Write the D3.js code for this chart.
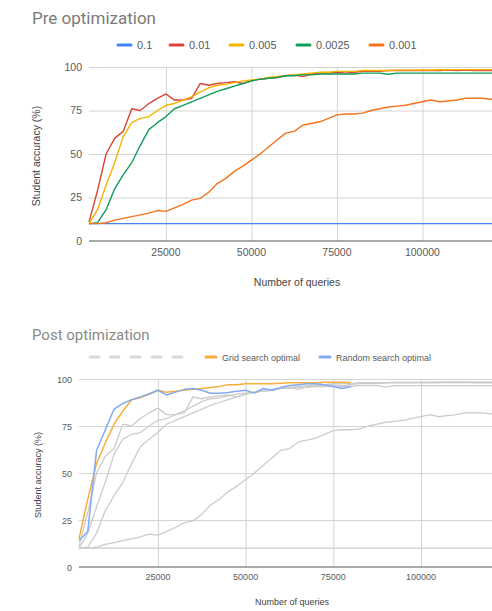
<!DOCTYPE html>
<html>
<head>
<meta charset="utf-8">
<script src="https://cdn.jsdelivr.net/npm/d3@7"></script>
<style>
body { margin: 0; background: #fff; }
svg { display: block; font-family: Arial, "Liberation Sans", sans-serif; }
.grid line { stroke: #d4d4d4; stroke-width: 1; }
.grid .domain { display: none; }
.ticklab { fill: #5a5a5a; }
</style>
</head>
<body>
<script>
// number of queries, shared by every series
var queries = [2500, 5000, 7500, 10000, 12500, 15000, 17500, 20000, 22500, 25000,
  27500, 30000, 32500, 35000, 37500, 40000, 42500, 45000, 47500, 50000,
  52500, 55000, 57500, 60000, 62500, 65000, 67500, 70000, 72500, 75000,
  77500, 80000, 82500, 85000, 87500, 90000, 92500, 95000, 97500, 100000,
  102500, 105000, 107500, 110000, 112500, 115000, 117500, 120000, 122500];

var lr_01 = [10, 10, 10, 10, 10, 10, 10, 10, 10, 10, 10, 10, 10, 10, 10, 10, 10, 10, 10, 10,
  10, 10, 10, 10, 10, 10, 10, 10, 10, 10, 10, 10, 10, 10, 10, 10, 10, 10, 10, 10,
  10, 10, 10, 10, 10, 10, 10, 10, 10];
var lr_001 = [11, 29, 50, 59, 63, 76, 75, 79, 82, 84.5, 81, 81, 82, 90.5, 89.5, 90.5, 91, 91.5, 90.5, 92,
  93, 93.5, 94, 95, 95.5, 94.5, 96, 96.5, 96.5, 97, 96.5, 97, 97.5, 97.5, 97.5, 98, 98, 98, 98, 98,
  98, 98, 98.2, 98, 98.2, 98, 98, 98, 98];
var lr_0005 = [10, 18, 32, 45, 60, 68, 70.5, 71.5, 75, 78, 79, 81, 83, 85.5, 88, 89.5, 90, 91, 92, 92.5,
  93, 94, 94.5, 95, 95.5, 96, 96.5, 97, 97, 97.5, 97.5, 97.5, 98, 98, 98, 98, 98.2, 98.2, 98.2, 98.3,
  98.3, 98.4, 98.4, 98.5, 98.5, 98.5, 98.5, 98.5, 98.5];
var lr_00025 = [10, 10.5, 18, 30, 38, 45, 55, 64, 68, 71.5, 76, 78, 80, 82, 84, 86, 87.5, 89, 90.5, 92,
  93, 93.5, 94, 95, 95, 95.5, 95.5, 96, 96, 96, 96, 96, 96.5, 96.5, 96.5, 95.8, 96.5, 96.5, 96.5, 96.5,
  96.5, 96.5, 96.5, 96.5, 96.5, 96.5, 96.5, 96.5, 96.5];
var lr_0001 = [10, 10, 10.5, 12, 13, 14, 15, 16, 17.5, 17, 19, 21, 23.5, 24.5, 28, 33, 36, 40, 43, 46.5,
  50, 54, 58, 62, 63, 66.5, 67.5, 68.5, 70.5, 72.5, 73, 73, 73.5, 75, 76, 77, 77.5, 78, 79, 80,
  81, 80, 80.5, 81, 82, 82, 82, 81.5, 81.5];

// post optimization runs only go to 80000 queries
var optQueries = queries.slice(0, 32);
var gridOptimal = [15, 36, 55, 66, 76, 83, 89, 90, 92, 94, 93, 93.5, 94, 94.5, 95, 95.5, 96, 97, 97, 97.5,
  97.5, 97.5, 97.5, 97.8, 98, 98, 98, 98, 98.3, 98.3, 98.3, 98];
var randomOptimal = [14, 19, 62, 73, 84, 87, 89, 90.5, 92, 94, 91.5, 93, 94.5, 95, 94, 92.4, 92.4, 92.8, 93.5, 94,
  92.5, 95, 94, 95.5, 96.5, 97, 97.5, 97.5, 97, 96, 95, 96];

var preNames = ["0.1", "0.01", "0.005", "0.0025", "0.001"];
var preValues = [lr_01, lr_001, lr_0005, lr_00025, lr_0001];
var preColors = ["#4285f4", "#db4437", "#f4b400", "#0f9d58", "#f5731c"];
var optNames = ["Grid search optimal", "Random search optimal"];
var optValues = [gridOptimal, randomOptimal];
var optColors = ["#f7ae3b", "#82aaf2"];
var xTicks = [25000, 50000, 75000, 100000];
var yTicks = [0, 25, 50, 75, 100];

var svg = d3.select("body").append("svg")
    .attr("width", 492)
    .attr("height", 611);

function drawChart(o) {
  var x = d3.scaleLinear().domain([2500, 125000]).range([o.left, o.left + 122500 * o.pxPerQuery]);
  var y = d3.scaleLinear().domain([0, 100]).range([o.bottom, o.top]);
  var g = svg.append("g");

  // title
  g.append("text")
      .attr("x", 32).attr("y", o.titleY)
      .attr("font-family", "Roboto, Arial, sans-serif")
      .attr("font-size", o.titleSize)
      .attr("fill", o.titleColor)
      .text(o.title);

  // gridlines
  g.append("g").attr("class", "grid")
      .attr("transform", "translate(0," + o.bottom + ")")
      .call(d3.axisBottom(x).tickValues(xTicks).tickSize(-(o.bottom - o.top)).tickFormat(""));
  g.append("g").attr("class", "grid")
      .attr("transform", "translate(" + o.left + ",0)")
      .call(d3.axisLeft(y).tickValues(yTicks.slice(1)).tickSize(-(520 - o.left)).tickFormat(""));
  g.append("line")
      .attr("x1", o.left).attr("x2", 520)
      .attr("y1", y(0)).attr("y2", y(0))
      .attr("stroke", "#555").attr("stroke-width", 1);

  // tick labels
  g.selectAll(".xlab").data(xTicks).enter().append("text")
      .attr("class", "ticklab")
      .attr("x", function(d) { return x(d); })
      .attr("y", o.bottom + o.tickGap)
      .attr("text-anchor", "middle")
      .attr("font-size", o.tickSize)
      .text(function(d) { return d; });
  g.selectAll(".ylab").data(yTicks).enter().append("text")
      .attr("class", "ticklab")
      .attr("x", o.left - 7)
      .attr("y", function(d) { return y(d) + 3.5; })
      .attr("text-anchor", "end")
      .attr("font-size", o.tickSize)
      .text(function(d) { return d; });

  // axis titles
  g.append("text")
      .attr("x", o.xTitleX).attr("y", o.xTitleY)
      .attr("text-anchor", "middle")
      .attr("font-size", o.axisTitleSize)
      .attr("fill", "#444")
      .text("Number of queries");
  g.append("text")
      .attr("transform", "translate(" + o.yTitleX + "," + o.yTitleY + ") rotate(-90)")
      .attr("text-anchor", "middle")
      .attr("font-size", o.axisTitleSize)
      .attr("fill", "#444")
      .text("Student accuracy (%)");

  var line = d3.line()
      .x(function(d) { return x(d[0]); })
      .y(function(d) { return y(d[1]); });

  var plot = g.append("g");
  o.series.forEach(function(s) {
    plot.append("path")
        .datum(s.q.map(function(q, i) { return [q, s.v[i]]; }))
        .attr("fill", "none")
        .attr("stroke", s.color)
        .attr("stroke-width", s.width)
        .attr("stroke-linejoin", "round")
        .attr("d", line);
  });

  // legend
  var lg = g.append("g");
  o.legend.forEach(function(l) {
    lg.append("line")
        .attr("x1", l.x).attr("x2", l.x + l.w)
        .attr("y1", o.legendY).attr("y2", o.legendY)
        .attr("stroke", l.color).attr("stroke-width", 3).attr("stroke-linecap", "round");
    if (l.name) {
      lg.append("text")
          .attr("x", l.x + l.w + 6).attr("y", o.legendY + 4)
          .attr("font-size", o.legendSize)
          .attr("fill", "#5a5a5a")
          .text(l.name);
    }
  });
}

// pre optimization
var preLegendX = [118, 170, 230, 297, 370];
drawChart({
  title: "Pre optimization", titleY: 24, titleSize: 17, titleColor: "#7a7a7a",
  left: 89, pxPerQuery: 0.00342, top: 67, bottom: 241,
  tickSize: 10.5, tickGap: 15, axisTitleSize: 10.5,
  xTitleX: 297, xTitleY: 286, yTitleX: 40, yTitleY: 156,
  legendY: 45, legendSize: 11,
  series: preValues.map(function(v, i) {
    return {q: queries, v: v, color: preColors[i], width: 1.4};
  }),
  legend: preNames.map(function(n, i) {
    return {x: preLegendX[i], w: 13, color: preColors[i], name: n};
  })
});

// post optimization: earlier runs in grey, optimal runs on top
var postLegend = [90, 110, 131, 152, 173].map(function(px) {
  return {x: px, w: 9, color: "#d9d9d9", name: ""};
});
postLegend.push({x: 206, w: 10, color: optColors[0], name: optNames[0]});
postLegend.push({x: 320, w: 10, color: optColors[1], name: optNames[1]});

drawChart({
  title: "Post optimization", titleY: 340, titleSize: 15, titleColor: "#8a8a8a",
  left: 79, pxPerQuery: 0.003508, top: 379, bottom: 567,
  tickSize: 9, tickGap: 13, axisTitleSize: 9,
  xTitleX: 292, xTitleY: 605, yTitleX: 41, yTitleY: 475,
  legendY: 357, legendSize: 9,
  series: preValues.map(function(v) {
    return {q: queries, v: v, color: "#cccccc", width: 1.3};
  }).concat(optValues.map(function(v, i) {
    return {q: optQueries, v: v, color: optColors[i], width: 1.5};
  })),
  legend: postLegend
});
</script>
</body>
</html>
